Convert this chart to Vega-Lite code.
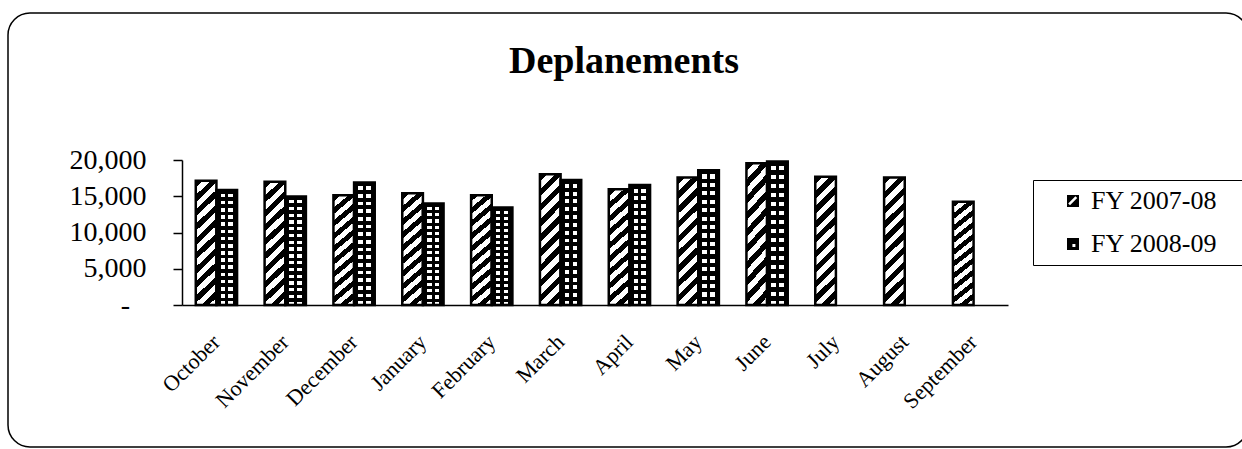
{
  "$schema": "https://vega.github.io/schema/vega-lite/v6.json",
  "autosize": "none",
  "width": 1240,
  "height": 434,
  "padding": {"left": 8, "top": 13, "right": 0, "bottom": 2},
  "background": "white",
  "title": {"text": "Deplanements", "font": "Liberation Serif", "fontSize": 38, "fontWeight": "bold", "color": "black", "anchor": "middle", "baseline": "top", "offset": 0, "dy": 68, "dx": -4},
  "config": {
    "view": {"stroke": "black", "strokeWidth": 1.5, "cornerRadius": 22, "fill": "white"},
    "axis": {"domainColor": "black", "domainWidth": 1.5, "tickColor": "black", "labelColor": "black", "labelFont": "Liberation Serif", "grid": false, "title": null}
  },
  "data": {"values": [
    {"month": "October", "series": "FY 2007-08", "value": 17150},
    {"month": "October", "series": "FY 2008-09", "value": 15850},
    {"month": "November", "series": "FY 2007-08", "value": 17000},
    {"month": "November", "series": "FY 2008-09", "value": 14950},
    {"month": "December", "series": "FY 2007-08", "value": 15150},
    {"month": "December", "series": "FY 2008-09", "value": 16900},
    {"month": "January", "series": "FY 2007-08", "value": 15400},
    {"month": "January", "series": "FY 2008-09", "value": 14000},
    {"month": "February", "series": "FY 2007-08", "value": 15150},
    {"month": "February", "series": "FY 2008-09", "value": 13450},
    {"month": "March", "series": "FY 2007-08", "value": 18050},
    {"month": "March", "series": "FY 2008-09", "value": 17250},
    {"month": "April", "series": "FY 2007-08", "value": 15950},
    {"month": "April", "series": "FY 2008-09", "value": 16550},
    {"month": "May", "series": "FY 2007-08", "value": 17600},
    {"month": "May", "series": "FY 2008-09", "value": 18600},
    {"month": "June", "series": "FY 2007-08", "value": 19550},
    {"month": "June", "series": "FY 2008-09", "value": 19800},
    {"month": "July", "series": "FY 2007-08", "value": 17700},
    {"month": "August", "series": "FY 2007-08", "value": 17600},
    {"month": "September", "series": "FY 2007-08", "value": 14250}
  ]},
  "encoding": {
    "x": {"field": "month", "type": "nominal",
      "scale": {"domain": ["October","November","December","January","February","March","April","May","June","July","August","September"], "range": [174, 1000], "paddingInner": 0.4, "paddingOuter": 0.2},
      "axis": {"orient": "bottom", "offset": -142, "ticks": false, "labelAngle": -45, "labelAlign": "right", "labelBaseline": "middle", "labelPadding": 33, "labelFontSize": 22, "labelOverlap": false, "labelBound": false}},
    "xOffset": {"field": "series", "type": "nominal", "scale": {"domain": ["FY 2007-08", "FY 2008-09"]}},
    "y": {"field": "value", "type": "quantitative",
      "scale": {"domain": [0, 20000], "range": [292, 147], "nice": false, "zero": true},
      "axis": {"orient": "left", "offset": -174, "values": [0, 5000, 10000, 15000, 20000], "tickSize": 9, "tickWidth": 1.5, "labelPadding": 27, "labelFontSize": 28, "labelExpr": "datum.value == 0 ? '-\u2002\u200a\u200b' : format(datum.value, ',')"}}
  },
  "layer": [
    {
      "transform": [{"filter": "datum.series == 'FY 2007-08'"}],
      "mark": {"type": "bar", "stroke": "black", "strokeWidth": 2.5,
        "fill": {"gradient": "linear", "x1": 0, "y1": 0, "x2": 0.18, "y2": 1.13, "stops": [
          {"offset": 0, "color": "black"}, {"offset": 0.05, "color": "black"}, {"offset": 0.05, "color": "white"}, {"offset": 0.1, "color": "white"},
          {"offset": 0.1, "color": "black"}, {"offset": 0.15, "color": "black"}, {"offset": 0.15, "color": "white"}, {"offset": 0.2, "color": "white"},
          {"offset": 0.2, "color": "black"}, {"offset": 0.25, "color": "black"}, {"offset": 0.25, "color": "white"}, {"offset": 0.3, "color": "white"},
          {"offset": 0.3, "color": "black"}, {"offset": 0.35, "color": "black"}, {"offset": 0.35, "color": "white"}, {"offset": 0.4, "color": "white"},
          {"offset": 0.4, "color": "black"}, {"offset": 0.45, "color": "black"}, {"offset": 0.45, "color": "white"}, {"offset": 0.5, "color": "white"},
          {"offset": 0.5, "color": "black"}, {"offset": 0.55, "color": "black"}, {"offset": 0.55, "color": "white"}, {"offset": 0.6, "color": "white"},
          {"offset": 0.6, "color": "black"}, {"offset": 0.65, "color": "black"}, {"offset": 0.65, "color": "white"}, {"offset": 0.7, "color": "white"},
          {"offset": 0.7, "color": "black"}, {"offset": 0.75, "color": "black"}, {"offset": 0.75, "color": "white"}, {"offset": 0.8, "color": "white"},
          {"offset": 0.8, "color": "black"}, {"offset": 0.85, "color": "black"}, {"offset": 0.85, "color": "white"}, {"offset": 0.9, "color": "white"},
          {"offset": 0.9, "color": "black"}, {"offset": 0.95, "color": "black"}, {"offset": 0.95, "color": "white"}, {"offset": 1, "color": "white"}
        ]}}
    },
    {
      "transform": [{"filter": "datum.series == 'FY 2008-09'"}],
      "mark": {"type": "bar",
        "fill": {"gradient": "linear", "x1": 0, "y1": 0, "x2": 1, "y2": 0, "stops": [
          {"offset": 0, "color": "black"}, {"offset": 0.2, "color": "black"}, {"offset": 0.2, "color": "white"}, {"offset": 0.42, "color": "white"},
          {"offset": 0.42, "color": "black"}, {"offset": 0.58, "color": "black"}, {"offset": 0.58, "color": "white"}, {"offset": 0.8, "color": "white"},
          {"offset": 0.8, "color": "black"}, {"offset": 1, "color": "black"}
        ]}}
    },
    {
      "transform": [{"filter": "datum.series == 'FY 2008-09'"}],
      "mark": {"type": "bar", "stroke": "black", "strokeWidth": 2.5,
        "fill": {"gradient": "linear", "x1": 0, "y1": 0, "x2": 0, "y2": 1, "stops": [
          {"offset": 0, "color": "black"}, {"offset": 0.03125, "color": "black"}, {"offset": 0.03125, "color": "rgba(0,0,0,0)"}, {"offset": 0.0625, "color": "rgba(0,0,0,0)"},
          {"offset": 0.0625, "color": "black"}, {"offset": 0.09375, "color": "black"}, {"offset": 0.09375, "color": "rgba(0,0,0,0)"}, {"offset": 0.125, "color": "rgba(0,0,0,0)"},
          {"offset": 0.125, "color": "black"}, {"offset": 0.15625, "color": "black"}, {"offset": 0.15625, "color": "rgba(0,0,0,0)"}, {"offset": 0.1875, "color": "rgba(0,0,0,0)"},
          {"offset": 0.1875, "color": "black"}, {"offset": 0.21875, "color": "black"}, {"offset": 0.21875, "color": "rgba(0,0,0,0)"}, {"offset": 0.25, "color": "rgba(0,0,0,0)"},
          {"offset": 0.25, "color": "black"}, {"offset": 0.28125, "color": "black"}, {"offset": 0.28125, "color": "rgba(0,0,0,0)"}, {"offset": 0.3125, "color": "rgba(0,0,0,0)"},
          {"offset": 0.3125, "color": "black"}, {"offset": 0.34375, "color": "black"}, {"offset": 0.34375, "color": "rgba(0,0,0,0)"}, {"offset": 0.375, "color": "rgba(0,0,0,0)"},
          {"offset": 0.375, "color": "black"}, {"offset": 0.40625, "color": "black"}, {"offset": 0.40625, "color": "rgba(0,0,0,0)"}, {"offset": 0.4375, "color": "rgba(0,0,0,0)"},
          {"offset": 0.4375, "color": "black"}, {"offset": 0.46875, "color": "black"}, {"offset": 0.46875, "color": "rgba(0,0,0,0)"}, {"offset": 0.5, "color": "rgba(0,0,0,0)"},
          {"offset": 0.5, "color": "black"}, {"offset": 0.53125, "color": "black"}, {"offset": 0.53125, "color": "rgba(0,0,0,0)"}, {"offset": 0.5625, "color": "rgba(0,0,0,0)"},
          {"offset": 0.5625, "color": "black"}, {"offset": 0.59375, "color": "black"}, {"offset": 0.59375, "color": "rgba(0,0,0,0)"}, {"offset": 0.625, "color": "rgba(0,0,0,0)"},
          {"offset": 0.625, "color": "black"}, {"offset": 0.65625, "color": "black"}, {"offset": 0.65625, "color": "rgba(0,0,0,0)"}, {"offset": 0.6875, "color": "rgba(0,0,0,0)"},
          {"offset": 0.6875, "color": "black"}, {"offset": 0.71875, "color": "black"}, {"offset": 0.71875, "color": "rgba(0,0,0,0)"}, {"offset": 0.75, "color": "rgba(0,0,0,0)"},
          {"offset": 0.75, "color": "black"}, {"offset": 0.78125, "color": "black"}, {"offset": 0.78125, "color": "rgba(0,0,0,0)"}, {"offset": 0.8125, "color": "rgba(0,0,0,0)"},
          {"offset": 0.8125, "color": "black"}, {"offset": 0.84375, "color": "black"}, {"offset": 0.84375, "color": "rgba(0,0,0,0)"}, {"offset": 0.875, "color": "rgba(0,0,0,0)"},
          {"offset": 0.875, "color": "black"}, {"offset": 0.90625, "color": "black"}, {"offset": 0.90625, "color": "rgba(0,0,0,0)"}, {"offset": 0.9375, "color": "rgba(0,0,0,0)"},
          {"offset": 0.9375, "color": "black"}, {"offset": 0.96875, "color": "black"}, {"offset": 0.96875, "color": "rgba(0,0,0,0)"}, {"offset": 1, "color": "rgba(0,0,0,0)"}
        ]}}
    },
    {
      "mark": {"type": "point", "filled": true, "opacity": 0, "color": "black"},
      "encoding": {
        "shape": {"field": "series", "type": "nominal",
          "scale": {"domain": ["FY 2007-08", "FY 2008-09"], "range": ["M-1,-1H1V1H-1Z M-0.8,0.4L-0.5,0.7L0.7,-0.5L0.4,-0.8Z", "M-1,-1H1V1H-1Z M-0.1,0L-0.1,0.5L0.4,0.5L0.4,0Z"]},
          "legend": {"orient": "none", "legendX": 1025, "legendY": 167, "title": null, "strokeColor": "black", "fillColor": "white", "padding": 8, "symbolOffset": 19, "rowPadding": 17, "labelFont": "Liberation Serif", "labelFontSize": 26, "labelColor": "black", "labelOffset": 5, "labelLimit": 400, "symbolSize": 144, "symbolFillColor": "black", "symbolStrokeWidth": 0, "symbolOpacity": 1, "labelExpr": "datum.label + '\u2002\u2002\u200b'"}}
      }
    }
  ]
}
